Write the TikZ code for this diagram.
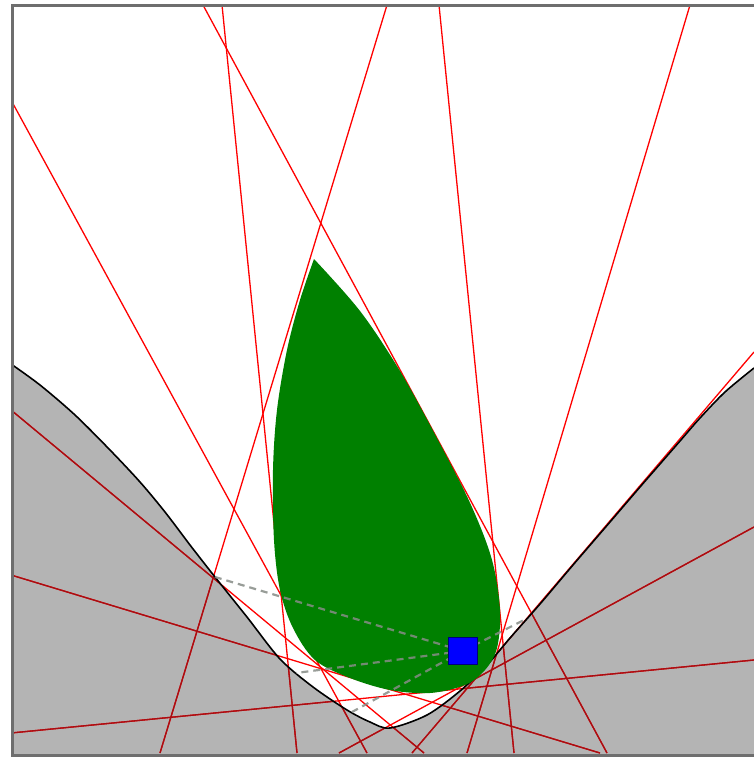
\documentclass[tikz,border=0pt]{standalone}
\begin{document}
\definecolor{regiongray}{RGB}{180,180,180}
\definecolor{leafgreen}{RGB}{0,128,0}
\definecolor{deepred}{RGB}{165,15,20}
\definecolor{framegray}{RGB}{110,110,110}
\definecolor{dashgray}{RGB}{135,140,135}
\tikzset{
  redline/.style={draw=red, line width=1.3pt},
  redlinedark/.style={draw=deepred, line width=1.3pt},
  curveline/.style={draw=black, line width=1.6pt},
  dashline/.style={draw=dashgray, line width=2.2pt, dash pattern=on 7pt off 5pt, opacity=0.85},
  framestyle/.style={draw=framegray, line width=3pt},
  robot/.style={draw={rgb,255:red,0;green,0;blue,120}, fill=blue, minimum width=29pt, minimum height=27pt, inner sep=0pt, line width=0.6pt}
}
\newcommand\alltangents[1]{%
  \draw[#1] (203,5) -- (607,753);
  \draw[#1] (222,5) -- (297,753);
  \draw[#1] (387,5) -- (160,753);
  \draw[#1] (439,5) -- (514,753);
  \draw[#1] (690,5) -- (467,753);
  \draw[#1] (11,100) -- (367,753);
  \draw[#1] (11,410) -- (424,753);
  \draw[#1] (11,575) -- (600,753);
  \draw[#1] (11,733) -- (754,660);
  \draw[#1] (754,352) -- (412,753);
  \draw[#1] (754,527) -- (339,753);
}
\newcommand\grayregion{%
  plot[smooth, tension=0.5] coordinates {(11,364) (40,385) (75,415) (110,450) (140,482) (165,512) (190,545) (215,577) (247,617) (280,659) (313,687) (347,710) (370,722) (390,728) (427,715) (460,691) (487,665) (510,638) (540,604) (573,565) (610,522) (640,487) (660,464) (680,441) (700,418) (725,392) (754,368)}
}
\begin{tikzpicture}[x=1pt,y=-1pt]
\useasboundingbox (0,0) rectangle (754,757);
\fill[white] (0,0) rectangle (754,757);
\begin{scope}
\clip (11,5) rectangle (756,755);
% gray obstacle region
\fill[regiongray] \grayregion -- (756,368) -- (756,757) -- (11,757) -- cycle;
% tangent lines
\alltangents{redline}
\begin{scope}
\clip \grayregion -- (756,368) -- (756,757) -- (11,757) -- cycle;
\alltangents{redlinedark}
\end{scope}
% boundary curve
\draw[curveline] \grayregion;
% green region
\fill[leafgreen] plot[smooth, tension=0.55] coordinates {(314,259) (360,311) (400,371) (438,440) (471,505) (492,560) (500,610) (497,648) (485,670) (465,685) (430,693) (390,690) (350,678) (315,660) (293,628) (280,590) (274,540) (273,470) (277,410) (287,350) (300,300) (314,259)} -- cycle;
% robot and sight lines
\coordinate (p1) at (215,577);
\coordinate (p2) at (296,673);
\coordinate (p3) at (352,712);
\coordinate (p4) at (524,620);
\coordinate (rc) at (463,651);
\draw[dashline] (rc) -- (p1);
\draw[dashline] (rc) -- (p2);
\draw[dashline] (rc) -- (p3);
\draw[dashline] (rc) -- (p4);
\node[robot] (sq) at (rc) {};
\end{scope}
% frame
\draw[framestyle] (756,5.5) -- (12,5.5) -- (12,755) -- (756,755);
\end{tikzpicture}
\end{document}
